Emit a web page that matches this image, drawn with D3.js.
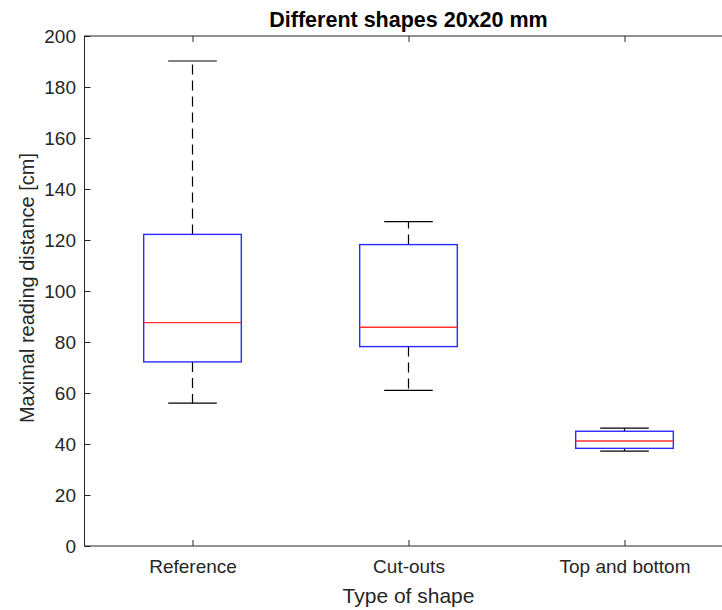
<!DOCTYPE html>
<html>
<head>
<meta charset="utf-8">
<script src="https://cdn.jsdelivr.net/npm/d3@7"></script>
<style>
  body { margin: 0; background: #fff; }
  svg { display: block; font-family: "Liberation Sans", Arial, sans-serif; }
</style>
</head>
<body>
<svg id="chart"></svg>
<script>
// values
let categories = ["Reference", "Cut-outs", "Top and bottom"]
let whiskerLow = [56, 61, 37.2]
let q1 = [72.2, 78.2, 38.3]
let median = [87.6, 85.8, 41.2]
let q3 = [122.2, 118.2, 45]
let whiskerHigh = [190.2, 127.2, 46.2]
let yTicks = [0, 20, 40, 60, 80, 100, 120, 140, 160, 180, 200]

let width = 722
let height = 610
let plotLeft = 84.5, plotRight = 732.5, plotTop = 36, plotBottom = 546
let ink = "#262626"

let svg = d3.select("#chart")
  .attr("width", width)
  .attr("height", height)

let x = d3.scaleLinear()
  .domain([0.5, 3.5])
  .range([plotLeft, plotRight])

let y = d3.scaleLinear()
  .domain([0, 200])
  .range([plotBottom, plotTop])

let boxes = categories.map((c, i) => ({
  name: c, pos: i + 1,
  lo: whiskerLow[i], q1: q1[i], med: median[i], q3: q3[i], hi: whiskerHigh[i]
}))

let boxW = 0.452, capW = 0.225

// axes
let yAxis = d3.axisLeft(y).tickValues(yTicks).tickSize(-6).tickPadding(8.5)
svg.append("g").attr("transform", `translate(${plotLeft},0)`).call(yAxis)

let xAxis = d3.axisBottom(x).tickValues([1, 2, 3])
  .tickFormat((d) => categories[d - 1]).tickSize(-6).tickPadding(14)
svg.append("g").attr("transform", `translate(0,${plotBottom})`).call(xAxis)

// top axis ticks and right axis ticks (inward, no labels)
let xTop = d3.axisTop(x).tickValues([1, 2, 3]).tickSize(-6).tickFormat("")
svg.append("g").attr("transform", `translate(0,${plotTop})`).call(xTop)
let yRight = d3.axisRight(y).tickValues(yTicks).tickSize(-6).tickFormat("")
svg.append("g").attr("transform", `translate(${plotRight},0)`).call(yRight)

svg.selectAll(".domain").remove()
svg.selectAll(".tick line").attr("stroke", ink).attr("stroke-width", 1)
svg.selectAll(".tick text").attr("fill", ink).attr("font-size", 19)
  .attr("font-family", "Liberation Sans, Arial, sans-serif")

svg.append("rect")
  .attr("x", plotLeft).attr("y", plotTop)
  .attr("width", plotRight - plotLeft).attr("height", plotBottom - plotTop)
  .attr("fill", "none").attr("stroke", ink).attr("stroke-width", 1)

// boxes
let g = svg.append("g")
let bx = g.selectAll("g.box").data(boxes).enter().append("g").attr("class", "box")

// whiskers
bx.append("line")
  .attr("x1", (d) => x(d.pos)).attr("x2", (d) => x(d.pos))
  .attr("y1", (d) => y(d.q3)).attr("y2", (d) => y(d.hi))
  .attr("stroke", "#000").attr("stroke-width", 1.2).attr("stroke-dasharray", "10,6")
bx.append("line")
  .attr("x1", (d) => x(d.pos)).attr("x2", (d) => x(d.pos))
  .attr("y1", (d) => y(d.q1)).attr("y2", (d) => y(d.lo))
  .attr("stroke", "#000").attr("stroke-width", 1.2).attr("stroke-dasharray", "10,6")

// caps
bx.append("line")
  .attr("x1", (d) => x(d.pos - capW / 2)).attr("x2", (d) => x(d.pos + capW / 2))
  .attr("y1", (d) => y(d.hi)).attr("y2", (d) => y(d.hi))
  .attr("stroke", "#000").attr("stroke-width", 1.2)
bx.append("line")
  .attr("x1", (d) => x(d.pos - capW / 2)).attr("x2", (d) => x(d.pos + capW / 2))
  .attr("y1", (d) => y(d.lo)).attr("y2", (d) => y(d.lo))
  .attr("stroke", "#000").attr("stroke-width", 1.2)

// box
bx.append("rect")
  .attr("x", (d) => x(d.pos - boxW / 2))
  .attr("width", (d) => x(d.pos + boxW / 2) - x(d.pos - boxW / 2))
  .attr("y", (d) => y(d.q3))
  .attr("height", (d) => y(d.q1) - y(d.q3))
  .attr("fill", "none").attr("stroke", "#2a2aff").attr("stroke-width", 1.4)

// median
bx.append("line")
  .attr("x1", (d) => x(d.pos - boxW / 2)).attr("x2", (d) => x(d.pos + boxW / 2))
  .attr("y1", (d) => y(d.med)).attr("y2", (d) => y(d.med))
  .attr("stroke", "#ff3030").attr("stroke-width", 1.4)

// labels
svg.append("text")
  .attr("x", (plotLeft + plotRight) / 2).attr("y", 27)
  .attr("text-anchor", "middle")
  .attr("font-size", 21.5).attr("font-weight", "bold").attr("fill", "#000")
  .text("Different shapes 20x20 mm")

svg.append("text")
  .attr("x", (plotLeft + plotRight) / 2).attr("y", 603)
  .attr("text-anchor", "middle")
  .attr("font-size", 21).attr("fill", ink)
  .text("Type of shape")

svg.append("text")
  .attr("transform", `translate(34,288) rotate(-90)`)
  .attr("text-anchor", "middle")
  .attr("font-size", 20).attr("fill", ink)
  .text("Maximal reading distance [cm]")
</script>
</body>
</html>
